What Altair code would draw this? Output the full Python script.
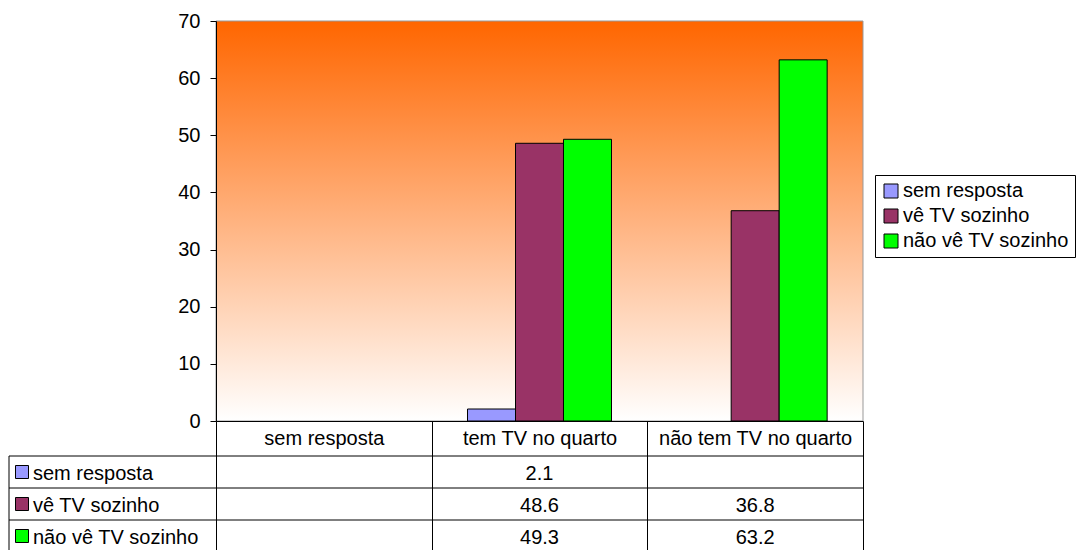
import altair as alt
import pandas as pd

categories = ["sem resposta", "tem TV no quarto", "não tem TV no quarto"]
series_names = ["sem resposta", "vê TV sozinho", "não vê TV sozinho"]
series_colors = ["#9999FF", "#993366", "#00FF00"]
sem_resposta_vals = [None, 2.1, None]
ve_tv_vals = [None, 48.6, 36.8]
nao_ve_tv_vals = [None, 49.3, 63.2]
y_ticks = [0, 10, 20, 30, 40, 50, 60, 70]

rows = []
for s, vals in zip(series_names, [sem_resposta_vals, ve_tv_vals, nao_ve_tv_vals]):
    for c, v in zip(categories, vals):
        if v is not None:
            rows.append({"category": c, "series": s, "value": v, "label": f"{v:.1f}"})
df = pd.DataFrame(rows)
series_df = pd.DataFrame({"series": series_names})
one = pd.DataFrame({"a": [0]})

FONT = "Liberation Sans"
FS = 20

x_scale = alt.Scale(domain=categories, paddingInner=0, paddingOuter=0)
offset_scale = alt.Scale(domain=series_names, paddingInner=0, paddingOuter=0.747)
color_scale = alt.Scale(domain=series_names, range=series_colors)
row_scale = alt.Scale(domain=series_names, range=[435, 531], paddingInner=0, paddingOuter=0)

legend = alt.Legend(title=None, orient="none", legendX=659, legendY=154)

x_axis = alt.Axis(title=None, labelAngle=0, tickBand="extent", tickSize=140,
                  tickColor="black", domainColor="black", labelPadding=-122.5,
                  labelBaseline="middle", labelFont=FONT, labelFontSize=FS,
                  labelColor="black", labelLimit=400, labelOverlap=False, zindex=1)

gradient = alt.LinearGradient(
    gradient="linear",
    stops=[alt.GradientStop(color="#FF6600", offset=0),
           alt.GradientStop(color="#FFFFFF", offset=1)],
    x1=0, x2=0, y1=0, y2=1,
)

background = alt.Chart(one).mark_rect(fill=gradient, stroke="#999999", strokeWidth=1).encode(
    x=alt.value(0), x2=alt.value("width"), y=alt.value(0), y2=alt.value("height")
)

bars = alt.Chart(df).mark_bar(stroke="black", strokeWidth=1).encode(
    x=alt.X("category:N", scale=x_scale, sort=categories, axis=x_axis),
    xOffset=alt.XOffset("series:N", scale=offset_scale, sort=series_names),
    y=alt.Y("value:Q", scale=alt.Scale(domain=[0, 70], nice=False),
            axis=alt.Axis(title=None, values=y_ticks, grid=False, tickSize=6, tickColor="black",
                          domainColor="black", labelPadding=10, labelFont=FONT, labelFontSize=FS,
                          labelColor="black", labelOverlap=False, zindex=1)),
    color=alt.Color("series:N", scale=color_scale, sort=series_names, legend=legend),
)

values_text = alt.Chart(df).mark_text(font=FONT, fontSize=FS, color="black", baseline="middle", dy=2).encode(
    x=alt.X("category:N", scale=x_scale, sort=categories, axis=x_axis),
    y=alt.Y("series:N", scale=row_scale, sort=series_names, axis=None),
    text="label:N",
)

h_rules = alt.Chart(series_df).mark_rule(color="black", strokeWidth=1).encode(
    y=alt.Y("series:N", scale=row_scale, sort=series_names, bandPosition=0, axis=None),
    x=alt.value(-207), x2=alt.value("width"),
)

v_rule = alt.Chart(one).mark_rule(color="black", strokeWidth=1).encode(
    x=alt.value(-207), y=alt.value(435), y2=alt.value(560)
)

row_keys = alt.Chart(series_df).mark_square(size=169, opacity=1, stroke="black", strokeWidth=1, filled=True).encode(
    x=alt.value(-194),
    y=alt.Y("series:N", scale=row_scale, sort=series_names, axis=None),
    color=alt.Color("series:N", scale=color_scale, sort=series_names, legend=legend),
)

row_labels = alt.Chart(series_df).mark_text(font=FONT, fontSize=FS, color="black", align="left",
                                             baseline="middle", dy=2).encode(
    x=alt.value(-183),
    y=alt.Y("series:N", scale=row_scale, sort=series_names, axis=None),
    text="series:N",
)

chart = alt.layer(
    background, bars, values_text, h_rules, v_rule, row_keys, row_labels
).resolve_scale(y="independent").properties(
    width=647, height=400,
    autosize=alt.AutoSizeParams(type="none"),
    padding={"left": 208, "top": 13, "right": 213, "bottom": 130},
).configure_view(stroke=None).configure_legend(
    strokeColor="black", fillColor="white", padding=6, symbolType="square", symbolSize=196,
    symbolStrokeColor="black", symbolStrokeWidth=1, labelFont=FONT, labelFontSize=FS,
    labelColor="black", labelOffset=2, rowPadding=5, labelLimit=300, cornerRadius=0,
)

chart.save("out.html", embed_options={"renderer": "svg", "actions": False})
